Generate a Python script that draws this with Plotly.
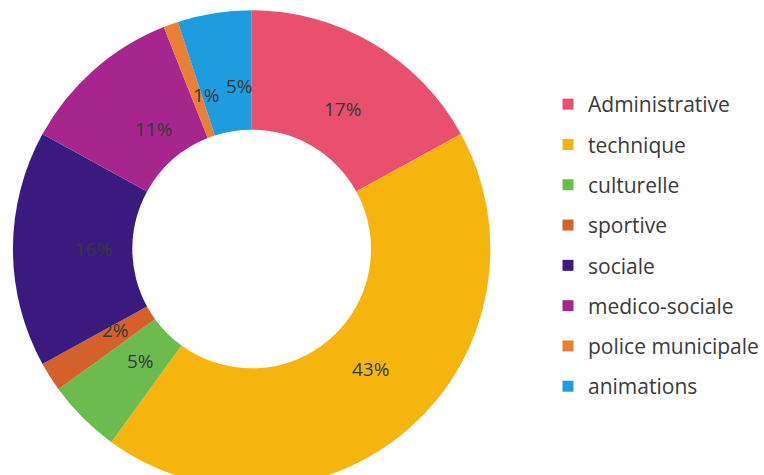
import math
import plotly.graph_objects as go

categories = ["Administrative", "technique", "culturelle", "sportive", "sociale",
              "medico-sociale", "police municipale", "animations"]
values = [17, 43, 5, 2, 16, 11, 1, 5]
colors = ["#E9506E", "#F6B50E", "#6CBB4F", "#D4612B", "#3B1A80",
          "#A7268E", "#EB7F35", "#1E9CE0"]

W, H = 764, 492
CX, CY, R = 253, 249, 240
HOLE = 0.5

fig = go.Figure()
fig.add_trace(go.Pie(
    labels=categories, values=values, hole=HOLE, sort=False, direction="clockwise",
    rotation=0, marker=dict(colors=colors, line=dict(width=0)),
    textinfo="none", showlegend=False, hoverinfo="label+percent",
    domain=dict(x=[(CX - R) / W, (CX + R) / W], y=[1 - (CY + R) / H, 1 - (CY - R) / H]),
))

# legend entries (one group per category so the rows are spaced like the original)
for i, (c, col) in enumerate(zip(categories, colors)):
    fig.add_trace(go.Scatter(
        x=[None], y=[None], mode="markers", name=c, legendgroup=c,
        marker=dict(symbol="square", size=11, color=col), showlegend=True,
    ))

# percentage labels positioned at the middle of each ring slice
total = sum(values)
rmid = R * (1 + HOLE) / 2
cum = 0
annotations = []
for v in values:
    mid = (cum + v / 2) / total * 2 * math.pi
    cum += v
    px = CX + rmid * math.sin(mid)
    py = CY - rmid * math.cos(mid)
    annotations.append(dict(
        x=px / W, y=1 - py / H, xref="paper", yref="paper",
        text=f"{round(v / total * 100)}%", showarrow=False,
        font=dict(family="Open Sans", size=19, color="#383838"),
    ))

fig.update_layout(
    width=W, height=H,
    margin=dict(l=0, r=0, t=0, b=0),
    paper_bgcolor="white", plot_bgcolor="white",
    xaxis=dict(visible=False), yaxis=dict(visible=False),
    annotations=annotations,
    legend=dict(
        x=551 / W, xanchor="left", y=1 - 84 / H, yanchor="top",
        font=dict(family="Open Sans", size=21, color="#3a3a3a"),
        tracegroupgap=10, bgcolor="rgba(0,0,0,0)",
    ),
    font=dict(family="Open Sans"),
)

fig.write_html(
    "out.html",
    post_script="document.documentElement.style.overflow='hidden';document.body.style.overflow='hidden';",
)
